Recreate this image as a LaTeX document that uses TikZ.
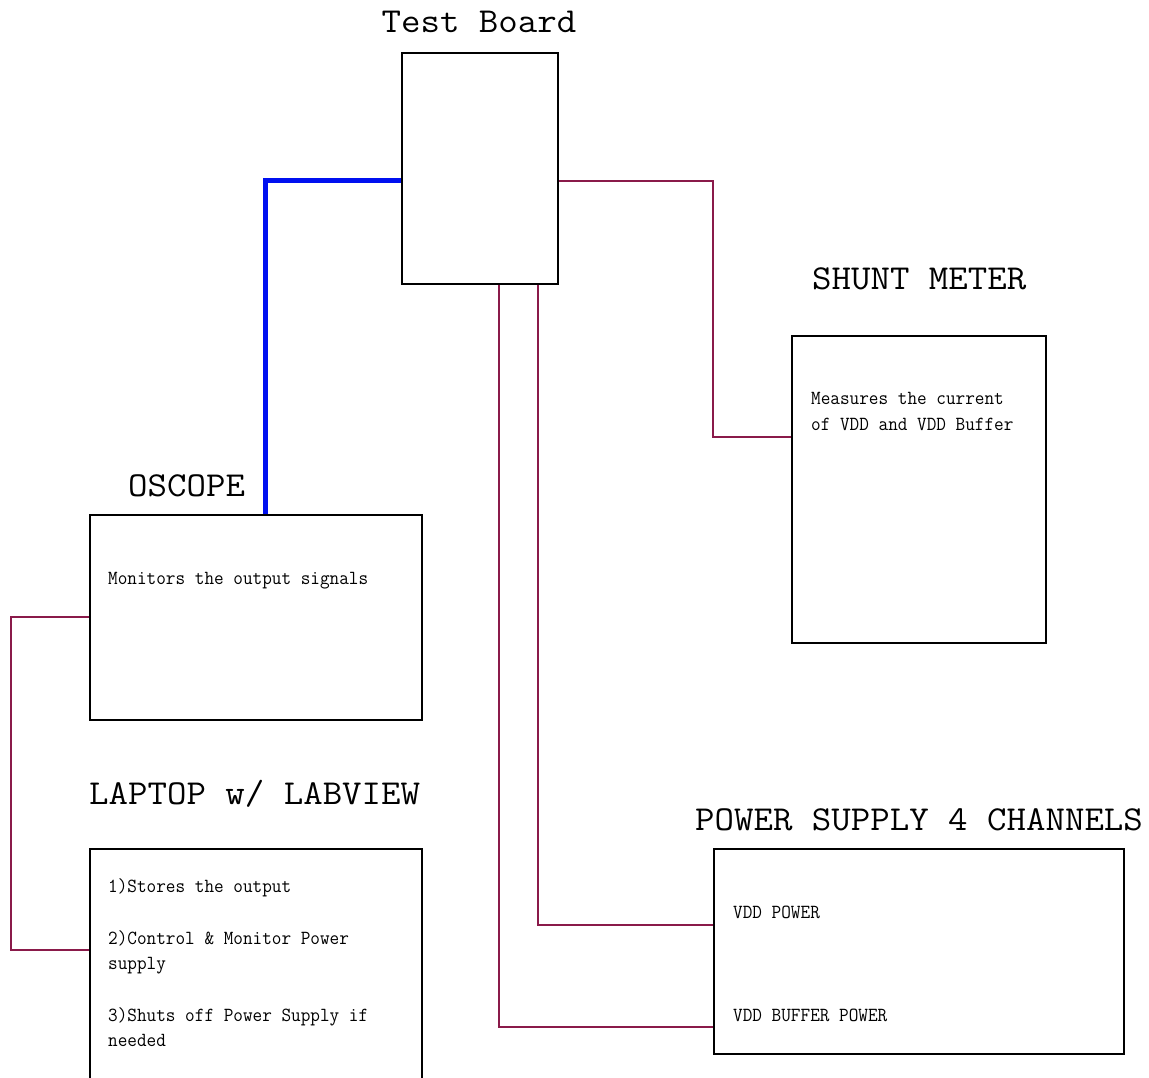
\documentclass[tikz,border=0pt]{standalone}
\usepackage{fontspec}
\usetikzlibrary{calc}
\newfontfamily\bigmono[FakeStretch=1.08]{Latin Modern Mono}
\newfontfamily\smallmono[FakeStretch=0.935]{Latin Modern Mono}
\definecolor{wirecol}{HTML}{8A1A4A}
\definecolor{scopeblue}{HTML}{0010F0}
\tikzset{
  box/.style={draw=black, line width=1.8pt, fill=white, inner sep=0pt, anchor=north west},
  title/.style={font=\bigmono\fontsize{35}{40}\selectfont, inner sep=0pt, anchor=base west},
  desc/.style={font=\smallmono\fontsize{20}{25}\selectfont, inner sep=0pt, anchor=base west},
  wire/.style={draw=wirecol, line width=1.8pt},
  bluewire/.style={draw=scopeblue, line width=5pt},
}
\begin{document}
\begin{tikzpicture}[x=1pt,y=-1pt]
\useasboundingbox (0,0) rectangle (1149,1078);
% boxes
\node[box, minimum width=156pt, minimum height=231pt] (tb) at (401,52) {};
\node[box, minimum width=254pt, minimum height=307pt] (shunt) at (791,335) {};
\node[box, minimum width=332pt, minimum height=205pt] (osc) at (89,514) {};
\node[box, minimum width=332pt, minimum height=260pt] (lap) at (89,848) {};
\node[box, minimum width=410pt, minimum height=205pt] (pow) at (713,848) {};
% titles
\node[title, anchor=base] (tbt) at (479,33) {Test Board};
\node[title] (sht) at (812,290) {SHUNT METER};
\node[title] (osct) at (128,496) {OSCOPE};
\node[title] (lapt) at (89,804) {LAPTOP w/ LABVIEW};
\node[title] (powt) at (695,830) {POWER SUPPLY 4 CHANNELS};
% descriptions
\node[desc] (shd1) at (811,404) {Measures the current};
\node[desc] (shd2) at (811,430) {of VDD and VDD Buffer};
\node[desc] (oscd) at (108,584) {Monitors the output signals};
\node[desc] (lap1) at (108,892) {1)Stores the output};
\node[desc] (lap2a) at (108,944) {2)Control \& Monitor Power};
\node[desc] (lap2b) at (108,969) {supply};
\node[desc] (lap3a) at (108,1021) {3)Shuts off Power Supply if};
\node[desc] (lap3b) at (108,1046) {needed};
\node[desc] (pow1) at (733,918) {VDD POWER};
\node[desc] (pow2) at (733,1021) {VDD BUFFER POWER};
% connectors
\draw[bluewire] ($(tb.north west)+(0,129)$) -| ($(osc.north west)+(176,0)$);
\draw[wire] ($(tb.north east)+(0,129)$) -| ($(shunt.north west)+(-78,102)$) -- ($(shunt.north west)+(0,102)$);
\draw[wire] ($(tb.south west)+(137,0)$) |- ($(pow.north west)+(0,77)$);
\draw[wire] ($(tb.south west)+(98,0)$) |- ($(pow.north west)+(0,179)$);
\draw[wire] ($(osc.north west)+(0,103)$) -- ++(-78,0) |- ($(lap.north west)+(0,102)$);
\end{tikzpicture}
\end{document}
